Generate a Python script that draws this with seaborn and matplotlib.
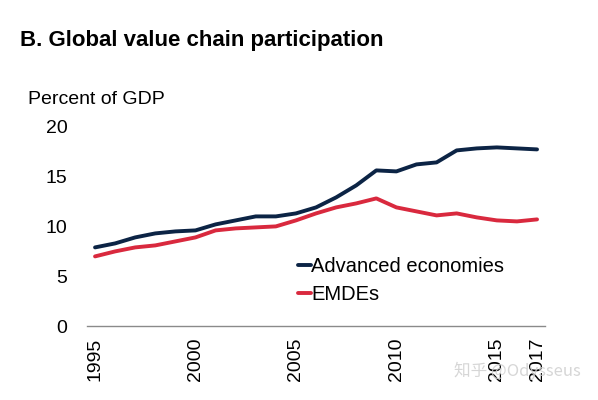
import pandas as pd
import matplotlib.pyplot as plt
import seaborn as sns

years = list(range(1995, 2018))
advanced = [7.9, 8.3, 8.9, 9.3, 9.5, 9.6, 10.2, 10.6, 11.0, 11.0, 11.3, 11.9,
            12.9, 14.1, 15.6, 15.5, 16.2, 16.4, 17.6, 17.8, 17.9, 17.8, 17.7]
emdes = [7.0, 7.5, 7.9, 8.1, 8.5, 8.9, 9.6, 9.8, 9.9, 10.0, 10.6, 11.3,
         11.9, 12.3, 12.8, 11.9, 11.5, 11.1, 11.3, 10.9, 10.6, 10.5, 10.7]
series = ["Advanced economies", "EMDEs"]
xticks = [1995, 2000, 2005, 2010, 2015, 2017]

df = pd.DataFrame({
    "year": years * 2,
    "value": advanced + emdes,
    "group": [series[0]] * len(years) + [series[1]] * len(years),
})

sns.set_style("white")
plt.rcParams['font.family'] = ['Liberation Sans', 'DejaVu Sans']
plt.rcParams['text.color'] = 'black'

fig = plt.figure(figsize=(5.98, 4.0), dpi=100)
ax = fig.add_axes([0.1455, 0.184, 0.766, 0.5])

sns.lineplot(data=df, x="year", y="value", hue="group",
             palette=["#0C2445", "#D9293E"], linewidth=2.8, ax=ax)

ax.set_xlim(1994.6, 2017.4)
ax.set_ylim(0, 20)
ax.set_yticks([0, 5, 10, 15, 20])
ax.set_xticks(xticks)
ax.set_xticklabels([str(x) for x in xticks], rotation=90)
ax.tick_params(axis='both', length=0, labelsize=14, labelcolor='black')
ax.tick_params(axis='y', pad=14)
ax.tick_params(axis='x', pad=8)
ax.set_xlabel("")
ax.set_ylabel("")
for s in ["top", "right", "left"]:
    ax.spines[s].set_visible(False)
ax.spines["bottom"].set_color("#8a8a8a")
ax.spines["bottom"].set_linewidth(1.0)

leg = ax.legend(loc="upper left", bbox_to_anchor=(0.485, 0.378), bbox_transform=fig.transFigure,
                frameon=False, fontsize=14.5, handlelength=0.65, handletextpad=0.0,
                labelspacing=0.45, borderaxespad=0)
for t in leg.get_texts():
    t.set_color("black")

fig.text(0.033, 0.885, "B. Global value chain participation", fontsize=16,
         fontweight="bold", ha="left", va="baseline")
fig.text(0.046, 0.74, "Percent of GDP", fontsize=14, ha="left", va="baseline")

fig.text(0.76, 0.06, "知乎 @Odysseus", fontsize=12, color="#cfcfcf", alpha=0.85,
         family=["Noto Sans CJK SC", "DejaVu Sans"], ha="left", va="baseline")

fig.savefig("out.png", dpi=100)
